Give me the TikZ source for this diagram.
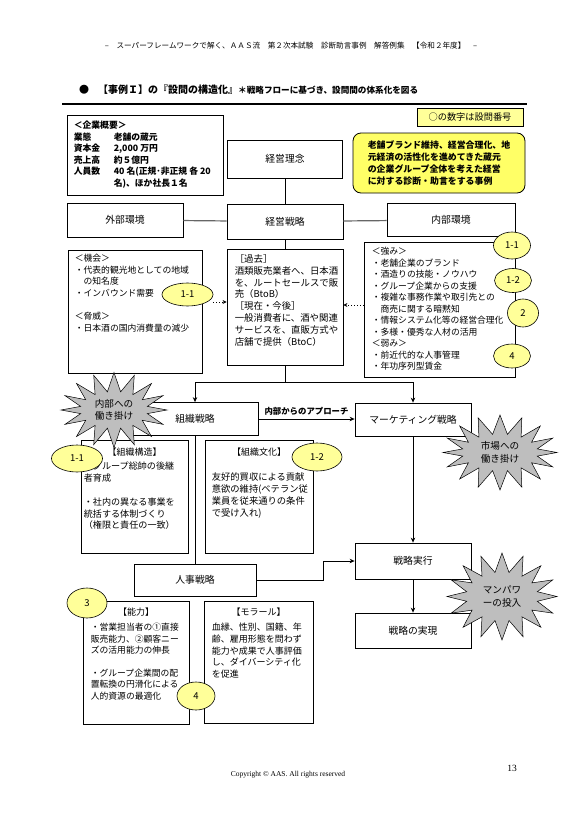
\documentclass[tikz,border=0pt]{standalone}
\usepackage{fontspec}
\setmainfont{Noto Sans CJK JP}
\newfontfamily\latinserif{Liberation Serif}
\usetikzlibrary{positioning,shapes.geometric,shapes.symbols,arrows.meta,calc}

\definecolor{noteyellow}{HTML}{FFFF99}
\definecolor{caseyellow}{HTML}{FFFF66}
\definecolor{stargray}{HTML}{BEBEBE}
\newcommand{\jfs}[2]{\fontsize{#1}{#2}\selectfont}

\begin{document}
\begin{tikzpicture}[
  x=1pt, y=-1pt,
  every node/.style={font=\jfs{9.8}{12}},
  box/.style={draw, line width=0.8pt, inner sep=0pt},
  sz/.style 2 args={minimum width=#1pt, minimum height=#2pt},
  body/.style={align=left, inner sep=0pt, anchor=north west, font=\jfs{8.8}{11.6}},
  head/.style={inner sep=0pt, font=\jfs{9}{11}},
  memo/.style={ellipse, draw, line width=0.6pt, fill=noteyellow, inner sep=0pt, font=\jfs{9.5}{10}},
  burst/.style={starburst, starburst points=16, starburst point height=19pt, random starburst=0, draw, line width=0.5pt, fill=stargray, align=center, inner sep=0pt, font=\jfs{9.6}{12.5}},
  arrow/.style={-{Stealth[length=5pt, width=4.5pt]}, line width=0.8pt},
  dotarrow/.style={-{Stealth[length=4pt, width=4pt]}, line width=1pt, dotted},
  link/.style={line width=0.8pt},
  envlink/.style={line width=1.2pt, draw=black!60}
]
% Page
\fill[white] (0,0) rectangle (586,830);
\useasboundingbox (0,0) rectangle (586,830);

% Header and title
\node[font=\jfs{7.6}{9}] (runhead) at (291,46) {–　スーパーフレームワークで解く、ＡＡＳ流　第２次本試験　診断助言事例　解答例集　【令和２年度】　–};
\node[anchor=west, inner sep=0pt, font=\jfs{10}{12}] (title) at (79,90) {●\hspace{9pt}{\bfseries 【事例Ｉ】の『設問の構造化』}{\bfseries\jfs{8.6}{10}＊戦略フローに基づき、設問間の体系化を図る}};
\draw[line width=1.2pt] (62,104) -- (527,104);

% Nodes
\node[box, sz={106}{18}, fill=noteyellow, font=\jfs{9.2}{11}] (legend) at (470,117) {○の数字は設問番号};

\node[box, sz={156}{80}] (gaiyo) at (145,155) {};
\node[body, font=\bfseries\jfs{8.8}{11.6}] (gaiyotxt) at ([xshift=7pt, yshift=-5.5pt]gaiyo.north west) {%
  \begin{tabular}{@{}p{40pt}@{}l@{}}
  \multicolumn{2}{@{}l@{}}{＜企業概要＞}\\
  業態 & 老舗の蔵元\\
  資本金 & 2,000 万円\\
  売上高 & 約５億円\\
  人員数 & 40 名(正規･非正規 各 20\\
   & 名)、ほか社長１名
  \end{tabular}};

\node[box, sz={115}{38}] (rinen) at (285,159) {経営理念};
\node[box, sz={172}{60}, rounded corners=8pt, fill=caseyellow, align=left, font=\bfseries\jfs{8.9}{12}] (jirei) at (439,163) {老舗ブランド維持、経営合理化、地\\元経済の活性化を進めてきた蔵元\\の企業グループ全体を考えた経営\\に対する診断・助言をする事例};

\node[box, sz={116}{34}] (gaibu) at (125,220) {外部環境};
\node[box, sz={116}{35}] (senryaku) at (285,221.5) {経営戦略};
\node[box, sz={128}{33}] (naibu) at (451,220) {内部環境};

\node[box, sz={134}{123}] (kikai) at (135,311.5) {};
\node[body] (kikaitxt) at ([xshift=7pt, yshift=-4.5pt]kikai.north west) {＜機会＞\\・代表的観光地としての地域\\　の知名度\\・インバウンド需要\\[11.6pt]＜脅威＞\\・日本酒の国内消費量の減少};

\node[box, sz={116}{116}] (kako) at (285,307) {};
\node[body, font=\jfs{9.4}{11.9}] (kakotxt) at ([xshift=8pt, yshift=-5.5pt]kako.north west) {［過去］\\酒類販売業者へ、日本酒\\を、ルートセールスで販\\売（BtoB）\\［現在・今後］\\一般消費者に、酒や関連\\サービスを、直販方式や\\店舗で提供（BtoC）};

\node[box, sz={151}{135}] (strength) at (439.5,309.5) {};
\node[body, font=\jfs{8.8}{11.5}] (strengthtxt) at ([xshift=8pt, yshift=-5.5pt]strength.north west) {＜強み＞\\・老舗企業のブランド\\・酒造りの技能・ノウハウ\\・グループ企業からの支援\\・複雑な事務作業や取引先との\\　商売に関する暗黙知\\・情報システム化等の経営合理化\\・多様・優秀な人材の活用\\＜弱み＞\\・前近代的な人事管理\\・年功序列型賃金};

\node[box, sz={126}{33}] (soshiki) at (195,419) {組織戦略};
\node[box, sz={116}{33}] (mktg) at (413,419.5) {マーケティング戦略};

\node[box, sz={107}{113}] (kozo) at (134.5,496.5) {};
\node[head] (kozohd) at ([yshift=-12pt]kozo.north) {【組織構造】};
\node[body, font=\jfs{9.1}{11.8}] (kozotxt) at ([xshift=3pt, yshift=-22.5pt]kozo.north west) {・グループ総帥の後継\\者育成\\[11.8pt]・社内の異なる事業を\\統括する体制づくり\\（権限と責任の一致）};

\node[box, sz={108}{113}] (bunka) at (259,496.5) {};
\node[head] (bunkahd) at ([yshift=-12pt]bunka.north) {【組織文化】};
\node[body, font=\jfs{9.3}{12}] (bunkatxt) at ([xshift=7pt, yshift=-32.5pt]bunka.north west) {友好的買収による貢献\\意欲の維持(ベテラン従\\業員を従来通りの条件\\で受け入れ)};

\node[box, sz={122}{32}] (jinji) at (195,580) {人事戦略};

\node[box, sz={106}{123}] (noryoku) at (136,662.5) {};
\node[head] (noryokuhd) at ([yshift=-11pt]noryoku.north) {【能力】};
\node[body, font=\jfs{8.8}{11.4}] (noryokutxt) at ([xshift=8pt, yshift=-22.5pt]noryoku.north west) {・営業担当者の①直接\\販売能力、②顧客ニー\\ズの活用能力の伸長\\[11.4pt]・グループ企業間の配\\置転換の円滑化による\\人的資源の最適化};

\node[box, sz={109}{122}] (morale) at (258.5,662) {};
\node[head] (moralehd) at ([yshift=-11pt]morale.north) {【モラール】};
\node[body, font=\jfs{9}{11.6}] (moraletxt) at ([xshift=8pt, yshift=-22.5pt]morale.north west) {血縁、性別、国籍、年\\齢、雇用形態を問わず\\能力や成果で人事評価\\し、ダイバーシティ化\\を促進};

\node[box, sz={116}{36}] (jikko) at (413,561) {戦略実行};
\node[box, sz={116}{35}] (jitsugen) at (413,630.5) {戦略の実現};

% Connectors
\draw[link] (rinen) -- (senryaku);
\draw[envlink] (gaibu) -- (senryaku);
\draw[envlink] (senryaku) -- (naibu);
\draw[link] (senryaku) -- (kako);
\coordinate (fork) at (285,382);
\draw[link] (kako) -- (fork);
\draw[arrow] (fork) -| (soshiki.north);
\draw[arrow] (fork) -| (mktg.north);
\draw[arrow] (soshiki.east) -- node[above, font=\bfseries\jfs{8.4}{10}, inner sep=3pt] (approach) {内部からのアプローチ} (soshiki.east -| mktg.west);
\draw[link] (soshiki) -- (jinji);
\draw[arrow] (mktg) -- (jikko);
\draw[arrow] (jinji.east) -- ++(67,0) |- (jikko.west);
\draw[arrow] (jikko) -- (jitsugen);

% Question numbers
\node[memo, sz={51}{23}] (m11a) at (187.5,294.5) {1-1};
\draw[dotarrow] ([yshift=-7.5pt]m11a.east) -- ([yshift=-7.5pt]m11a.east -| kako.west);
\draw[dotarrow] ([yshift=4.5pt]strength.west) -- ([yshift=4.5pt]strength.west -| kako.east);
\node[memo, sz={37}{27}] (m11b) at (512,245.5) {1-1};
\node[memo, sz={37}{24}] (m12b) at (513,280.5) {1-2};
\node[memo, sz={31}{28}] (m2) at (523,313) {2};
\node[memo, sz={37}{24}] (m4b) at (512,356) {4};
\node[memo, sz={51}{27}] (m11c) at (77,458.5) {1-1};
\node[memo, sz={50}{28}] (m12c) at (317,457) {1-2};
\node[memo, sz={40}{30}] (m3) at (87,603) {3};
\node[memo, sz={38}{28}] (m4c) at (196,696) {4};

% Stars
\node[burst, sz={106}{75}] (star1) at (114,410) {内部への\\働き掛け};
\node[burst, sz={114}{75}] (star2) at (500,452.5) {市場への\\働き掛け};
\node[burst, sz={110}{87}] (star3) at (502,596.5) {マンパワ\\ーの投入};

% Footer
\node[font=\latinserif\jfs{7.5}{8}] (copy) at (288,775) {Copyright © AAS. All rights reserved};
\node[font=\latinserif\jfs{9.5}{11}] (pageno) at (512,768) {13};
\end{tikzpicture}
\end{document}
